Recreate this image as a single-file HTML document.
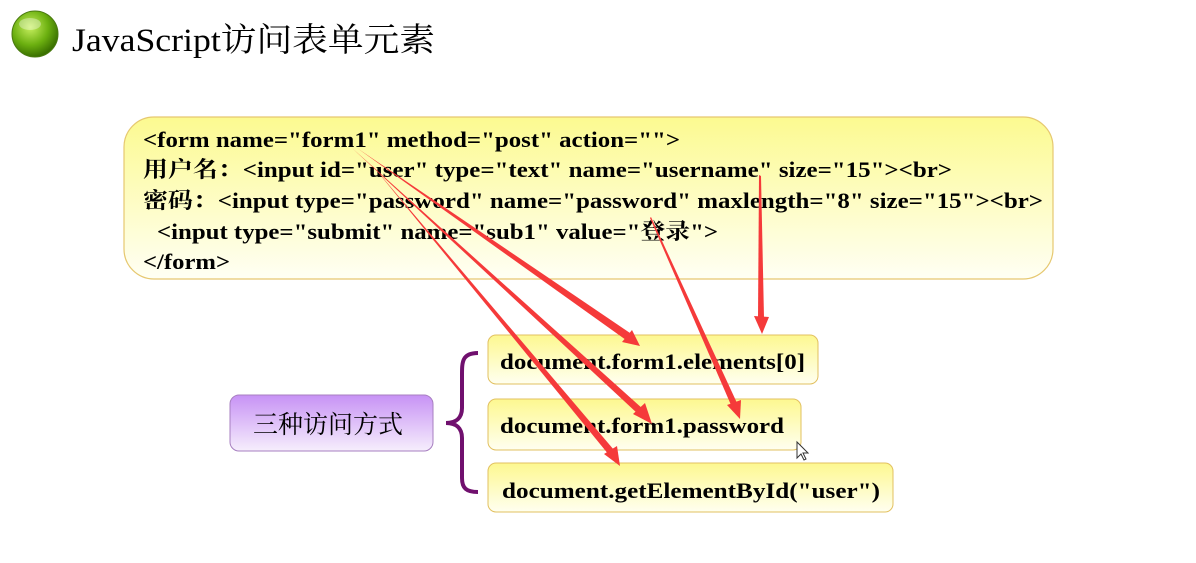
<!DOCTYPE html>
<html><head><meta charset="utf-8"><style>
html,body{margin:0;padding:0;background:#fff;width:1196px;height:563px;overflow:hidden}
svg{display:block}
.c{font-family:"Liberation Serif","Noto Serif CJK SC",serif;font-weight:bold;font-size:22px;fill:#000}
</style></head><body>
<svg width="1196" height="563" viewBox="0 0 1196 563" xmlns="http://www.w3.org/2000/svg">
<defs>
<radialGradient id="ball" cx="0.4" cy="0.35" r="0.65">
<stop offset="0" stop-color="#c8f060"/><stop offset="0.6" stop-color="#6cb010"/><stop offset="1" stop-color="#3a7000"/>
</radialGradient>
<linearGradient id="yel" x1="0" y1="0" x2="0" y2="1">
<stop offset="0" stop-color="#fcfa90"/><stop offset="1" stop-color="#fffff4"/>
</linearGradient>
<linearGradient id="yel2" x1="0" y1="0" x2="0" y2="1">
<stop offset="0" stop-color="#fdf890"/><stop offset="1" stop-color="#fffff0"/>
</linearGradient>
<linearGradient id="pur" x1="0" y1="0" x2="0" y2="1">
<stop offset="0" stop-color="#c792f5"/><stop offset="1" stop-color="#f6eefc"/>
</linearGradient>
</defs>
<circle cx="35" cy="34" r="23" fill="url(#ball)" stroke="#4a7a10" stroke-width="1"/>
<ellipse cx="30" cy="24" rx="11" ry="6" fill="#fff" opacity="0.35"/>
<text x="72" y="51" font-family="Liberation Serif,Noto Serif CJK SC,serif" font-size="33" textLength="363" lengthAdjust="spacingAndGlyphs">JavaScript访问表单元素</text>

<rect x="124" y="117" width="929" height="162" rx="30" fill="url(#yel)" stroke="#e6c870" stroke-width="1.2"/>
<text class="c" x="143" y="147" textLength="537" lengthAdjust="spacingAndGlyphs">&lt;form name="form1" method="post" action=""&gt;</text>
<text class="c" x="143" y="177" textLength="809" lengthAdjust="spacingAndGlyphs">用户名：&lt;input id="user" type="text" name="username" size="15"&gt;&lt;br&gt;</text>
<text class="c" x="143" y="208" textLength="900" lengthAdjust="spacingAndGlyphs">密码：&lt;input type="password" name="password" maxlength="8" size="15"&gt;&lt;br&gt;</text>
<text class="c" x="157" y="239" textLength="561" lengthAdjust="spacingAndGlyphs">&lt;input type="submit" name="sub1" value="登录"&gt;</text>
<text class="c" x="143" y="269" textLength="87" lengthAdjust="spacingAndGlyphs">&lt;/form&gt;</text>

<rect x="488" y="335" width="330" height="49" rx="8" fill="url(#yel2)" stroke="#e2c060"/>
<text class="c" x="500" y="369" textLength="305" lengthAdjust="spacingAndGlyphs">document.form1.elements[0]</text>
<rect x="488" y="399" width="313" height="51" rx="8" fill="url(#yel2)" stroke="#e2c060"/>
<text class="c" x="500" y="433" textLength="284" lengthAdjust="spacingAndGlyphs">document.form1.password</text>
<rect x="488" y="463" width="405" height="49" rx="8" fill="url(#yel2)" stroke="#e2c060"/>
<text class="c" x="502" y="498" textLength="378" lengthAdjust="spacingAndGlyphs">document.getElementById("user")</text>

<rect x="230" y="395" width="203" height="56" rx="9" fill="url(#pur)" stroke="#a77fc0"/>
<text x="253" y="433" font-family="Liberation Serif,Noto Serif CJK SC,serif" font-size="25" textLength="150" lengthAdjust="spacingAndGlyphs">三种访问方式</text>

<path d="M478,353 C462,353 462,362 462,375 L462,408 C462,418 456,423 446,423 C456,423 462,428 462,438 L462,478 C462,488 466,492 478,492" fill="none" stroke="#70106e" stroke-width="4"/>

<g fill="#f53a3a">
<polygon points="357,148 630,333 626,340"/>
<polygon points="640,346 622,342 632,330"/>
<polygon points="352,148 643,409 638,414"/>
<polygon points="652,424 633,414 645,403"/>
<polygon points="372,165 614,450 609,455"/>
<polygon points="620,466 604,454 617,446"/>
<polygon points="759,175 761,176 764,318 758,318"/>
<polygon points="762,334 754,316 769,317"/>
<polygon points="650,218 651,217 737,403 731,405"/>
<polygon points="740,419 727,405 741,400"/>
</g>
<path d="M797,442 L797,458 L801,454 L804,460 L806,459 L803,453 L808,453 Z" fill="#fff" stroke="#333" stroke-width="1"/>
</svg>
</body></html>
